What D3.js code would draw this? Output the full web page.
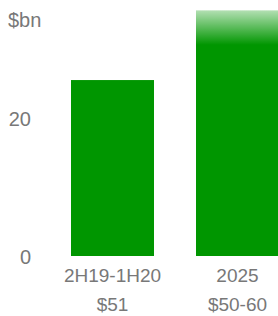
<!DOCTYPE html>
<html><head><meta charset="utf-8">
<script src="https://cdn.jsdelivr.net/npm/d3@7"></script>
<style>html,body{margin:0;padding:0;background:#fff;overflow:hidden}</style>
</head><body>
<svg id="c" width="278" height="316"></svg>
<script>
const categories = ["2H19-1H20", "2025"];
const subLabels = ["$51", "$50-60"];
const solidValues = [25.5, 30.6];
const topValues = [25.5, 35.6];
const yTicks = [0, 20];
const unitLabel = "$bn";

const svg = d3.select("#c");
const font = "'Liberation Sans', Arial, sans-serif";
const grey = "#787878";
const green = "#009600";

const y = d3.scaleLinear().domain([0, 20]).range([256, 118]);
const x = d3.scaleBand().domain(categories).range([50, 300]).paddingInner(0.336).paddingOuter(0.168);

const defs = svg.append("defs");
const grad = defs.append("linearGradient").attr("id", "fade")
  .attr("gradientUnits", "userSpaceOnUse")
  .attr("x1", 0).attr("x2", 0)
  .attr("y1", y(topValues[1])).attr("y2", y(solidValues[1]));
grad.append("stop").attr("offset", "0%").attr("stop-color", green).attr("stop-opacity", 0.3);
grad.append("stop").attr("offset", "100%").attr("stop-color", green).attr("stop-opacity", 1);

const data = categories.map((c, i) => ({c, sub: subLabels[i], lo: solidValues[i], hi: topValues[i]}));

svg.selectAll("rect.solid").data(data).join("rect").attr("class", "solid")
  .attr("x", d => x(d.c)).attr("width", x.bandwidth())
  .attr("y", d => y(d.lo)).attr("height", d => y(0) - y(d.lo))
  .attr("fill", green);
svg.selectAll("rect.range").data(data.filter(d => d.hi > d.lo)).join("rect").attr("class", "range")
  .attr("x", d => x(d.c)).attr("width", x.bandwidth())
  .attr("y", d => y(d.hi)).attr("height", d => y(d.lo) - y(d.hi) + 0.5)
  .attr("fill", "url(#fade)");

const yAxis = d3.axisLeft(y).tickValues(yTicks).tickSize(0).tickPadding(0);
const ga = svg.append("g").attr("transform", "translate(31,0)").call(yAxis);
ga.select(".domain").remove();
ga.selectAll("text").attr("font-family", font).attr("font-size", 20).attr("fill", grey).attr("dy", "0.35em");

svg.append("text").attr("x", 8).attr("y", 27).text(unitLabel)
  .attr("font-family", font).attr("font-size", 20).attr("fill", grey);

const xAxis = d3.axisBottom(x).tickSize(0).tickPadding(0);
const gx = svg.append("g").attr("transform", "translate(0,268.5)").call(xAxis);
gx.select(".domain").remove();
gx.selectAll("text").attr("font-family", font).attr("font-size", 19).attr("fill", grey).attr("dy", "0.71em");

svg.selectAll("text.sub").data(data).join("text").attr("class", "sub")
  .attr("x", d => x(d.c) + x.bandwidth() / 2).attr("y", 311)
  .attr("text-anchor", "middle").text(d => d.sub)
  .attr("font-family", font).attr("font-size", 19).attr("fill", grey);
</script>
</body></html>
